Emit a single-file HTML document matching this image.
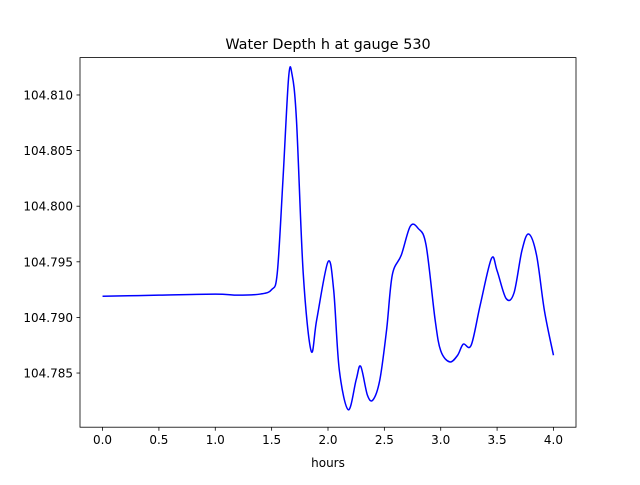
<!DOCTYPE html>
<html><head><meta charset="utf-8"><style>
body{margin:0;background:#fff;font-family:"Liberation Sans","DejaVu Sans",sans-serif}
svg text{font-family:"DejaVu Sans","Liberation Sans",sans-serif;font-size:12px;fill:#000}
</style></head><body>
<svg id="chart" width="640" height="480">
<rect width="640" height="480" fill="#fff"/>
<text x="328" y="49" text-anchor="middle" style="font-size:14.4px">Water Depth h at gauge 530</text>
<g id="ticks"></g>
<path id="line" fill="none" stroke="#0000ff" stroke-width="1.5"/>
<rect x="80" y="57.6" width="496" height="369.6" fill="none" stroke="#000" stroke-width="0.8"/>
<text x="328" y="467" text-anchor="middle">hours</text>
</svg>
<script>
const times=[0,0.5,1.0,1.2,1.4,1.5,1.55,1.6,1.65,1.68,1.72,1.78,1.85,1.9,2.0,2.05,2.1,2.18,2.25,2.29,2.35,2.4,2.46,2.52,2.57,2.65,2.73,2.8,2.87,2.95,3.0,3.08,3.15,3.2,3.27,3.35,3.45,3.5,3.58,3.65,3.72,3.78,3.85,3.92,4.0];
const depths=[104.7919,104.7920,104.7921,104.7920,104.7921,104.7925,104.7940,104.8023,104.8115,104.8119,104.8078,104.7940,104.7870,104.7898,104.7950,104.7925,104.7853,104.7817,104.7844,104.7856,104.7830,104.7826,104.7844,104.7889,104.7938,104.7956,104.7982,104.7980,104.7965,104.7898,104.7870,104.7860,104.7866,104.7876,104.7875,104.7911,104.7953,104.7942,104.7917,104.7922,104.7960,104.7975,104.7956,104.7906,104.7866];
const xTicks=[0,0.5,1,1.5,2,2.5,3,3.5,4];
const yTicks=[104.785,104.790,104.795,104.800,104.805,104.810];
const X0=80,X1=576,Y0=57.6,Y1=427.2,xmin=-0.2,xmax=4.2,ymin=104.78013,ymax=104.81336;
const sx=v=>X0+(v-xmin)/(xmax-xmin)*(X1-X0);
const sy=v=>Y1-(v-ymin)/(ymax-ymin)*(Y1-Y0);
const NS="http://www.w3.org/2000/svg";
const g=document.getElementById('ticks');
xTicks.forEach(t=>{
 const l=document.createElementNS(NS,'line');
 
 
 l.setAttribute('x1',sx(t));l.setAttribute('x2',sx(t));l.setAttribute('y1',Y1);l.setAttribute('y2',Y1+3.5);l.setAttribute('stroke','#000');l.setAttribute('stroke-width','0.8');g.appendChild(l);
 const tx=document.createElementNS(NS,'text');
 
 
 tx.setAttribute('x',sx(t));tx.setAttribute('y',Y1+17);tx.setAttribute('text-anchor','middle');tx.textContent=t.toFixed(1);g.appendChild(tx);
});
yTicks.forEach(t=>{
 const l=document.createElementNS(NS,'line');
 
 
 l.setAttribute('x1',X0-3.5);l.setAttribute('x2',X0);l.setAttribute('y1',sy(t));l.setAttribute('y2',sy(t));l.setAttribute('stroke','#000');l.setAttribute('stroke-width','0.8');g.appendChild(l);
 const tx=document.createElementNS(NS,'text');
 
 
 tx.setAttribute('x',X0-7);tx.setAttribute('y',sy(t)+4.5);tx.setAttribute('text-anchor','end');tx.textContent=t.toFixed(3);g.appendChild(tx);
});
const P=times.map((t,i)=>[sx(t),sy(depths[i])]);
let d='M'+P[0][0]+','+P[0][1];
for(let i=0;i<P.length-1;i++){
 const p0=P[Math.max(0,i-1)],p1=P[i],p2=P[i+1],p3=P[Math.min(P.length-1,i+2)];
 const c1=[p1[0]+(p2[0]-p0[0])/6,p1[1]+(p2[1]-p0[1])/6];
 const c2=[p2[0]-(p3[0]-p1[0])/6,p2[1]-(p3[1]-p1[1])/6];
 d+=' C'+c1+' '+c2+' '+p2;
}
document.getElementById('line').setAttribute('d',d);
</script>
</body></html>
